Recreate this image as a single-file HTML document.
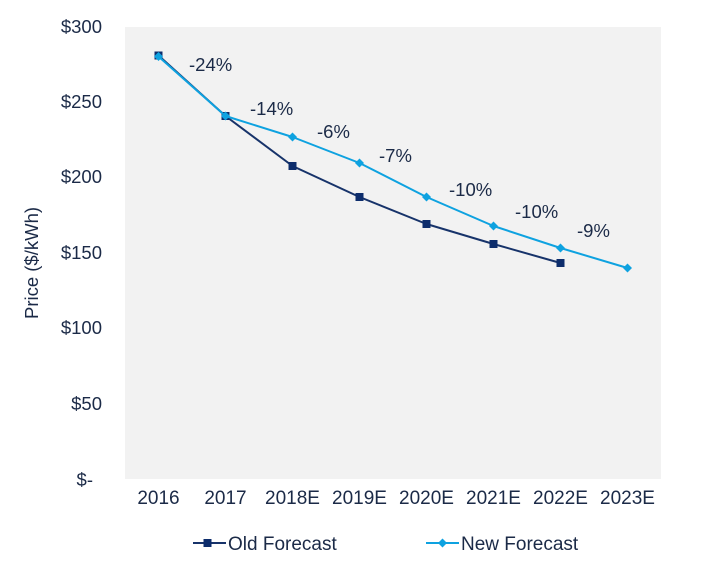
<!DOCTYPE html>
<html>
<head>
<meta charset="utf-8">
<style>
html,body{margin:0;padding:0;background:#fff;}
svg{display:block;}
text{font-family:"Liberation Sans",Arial,sans-serif;fill:#1B2A47;}
</style>
</head>
<body>
<svg width="703" height="570" viewBox="0 0 703 570" xmlns="http://www.w3.org/2000/svg">
  <rect x="0" y="0" width="703" height="570" fill="#ffffff"/>
  <rect x="125" y="27" width="536" height="452" fill="#F2F2F2"/>

  <!-- Y axis labels -->
  <g font-size="18.5" text-anchor="end">
    <text x="102" y="33">$300</text>
    <text x="102" y="108">$250</text>
    <text x="102" y="183">$200</text>
    <text x="102" y="259">$150</text>
    <text x="102" y="334">$100</text>
    <text x="102" y="410">$50</text>
    <text x="93" y="486">$-</text>
  </g>
  <text font-size="18.5" text-anchor="middle" transform="translate(38,263) rotate(-90)">Price ($/kWh)</text>

  <!-- X axis labels -->
  <g font-size="19" text-anchor="middle">
    <text x="158.5" y="504">2016</text>
    <text x="225.5" y="504">2017</text>
    <text x="292.5" y="504">2018E</text>
    <text x="359.5" y="504">2019E</text>
    <text x="426.5" y="504">2020E</text>
    <text x="493.5" y="504">2021E</text>
    <text x="560.5" y="504">2022E</text>
    <text x="627.5" y="504">2023E</text>
  </g>

  <!-- Old forecast -->
  <polyline fill="none" stroke="#17336A" stroke-width="2" stroke-linejoin="round"
    points="158.5,55.5 225.5,116 292.5,166 359.5,197 426.5,224 493.5,244 560.5,263"/>
  <g fill="#0D2D6C">
    <rect x="154.5" y="51.5" width="8" height="8"/>
    <rect x="221.5" y="112" width="8" height="8"/>
    <rect x="288.5" y="162" width="8" height="8"/>
    <rect x="355.5" y="193" width="8" height="8"/>
    <rect x="422.5" y="220" width="8" height="8"/>
    <rect x="489.5" y="240" width="8" height="8"/>
    <rect x="556.5" y="259" width="8" height="8"/>
  </g>

  <!-- New forecast -->
  <polyline fill="none" stroke="#0EA2E0" stroke-width="2" stroke-linejoin="round"
    points="158.5,56.5 225.5,116 292.5,137 359.5,163 426.5,197 493.5,226 560.5,248 627.5,268"/>
  <g fill="#0EA2E0">
    <polygon points="158.5,52 163,56.5 158.5,61 154,56.5"/>
    <polygon points="225.5,111.5 230,116 225.5,120.5 221,116"/>
    <polygon points="292.5,132.5 297,137 292.5,141.5 288,137"/>
    <polygon points="359.5,158.5 364,163 359.5,167.5 355,163"/>
    <polygon points="426.5,192.5 431,197 426.5,201.5 422,197"/>
    <polygon points="493.5,221.5 498,226 493.5,230.5 489,226"/>
    <polygon points="560.5,243.5 565,248 560.5,252.5 556,248"/>
    <polygon points="627.5,263.5 632,268 627.5,272.5 623,268"/>
  </g>

  <!-- percentage labels -->
  <g font-size="18.5">
    <text x="189" y="71">-24%</text>
    <text x="250" y="115">-14%</text>
    <text x="317" y="138">-6%</text>
    <text x="379" y="162">-7%</text>
    <text x="449" y="196">-10%</text>
    <text x="515" y="218">-10%</text>
    <text x="577" y="237">-9%</text>
  </g>

  <!-- Legend -->
  <line x1="193" y1="543" x2="226" y2="543" stroke="#17336A" stroke-width="2"/>
  <rect x="203.5" y="539" width="8" height="8" fill="#0D2D6C"/>
  <text x="228" y="550" font-size="19">Old Forecast</text>

  <line x1="426" y1="543" x2="459" y2="543" stroke="#0EA2E0" stroke-width="2"/>
  <polygon points="442.5,538.5 447,543 442.5,547.5 438,543" fill="#0EA2E0"/>
  <text x="461" y="550" font-size="19">New Forecast</text>
</svg>
</body>
</html>
